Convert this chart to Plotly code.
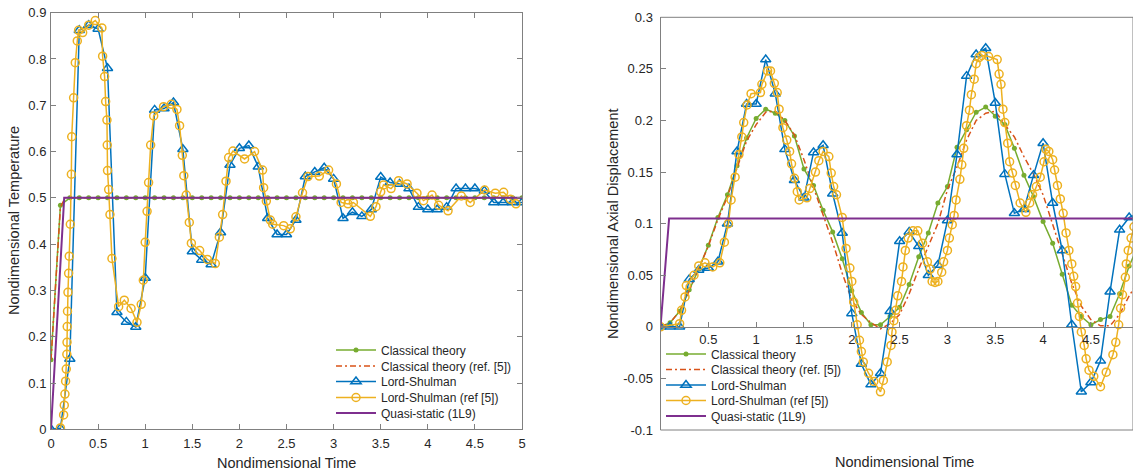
import plotly.graph_objects as go

# ---------------- data: left panel (temperature) ----------------
t_step = [round(0.1 * i, 1) for i in range(51)]

temp_classical = [0.15, 0.484] + [0.5] * 49

temp_classical_ref_t = [0.0, 0.03, 0.06, 0.1, 0.15, 0.2, 5.0]
temp_classical_ref = [0.15, 0.25, 0.36, 0.48, 0.5, 0.5, 0.5]

temp_ls = [0.0, 0.002, 0.152, 0.862, 0.873, 0.865, 0.78, 0.253, 0.232, 0.221,
           0.327, 0.69, 0.693, 0.706, 0.605, 0.384, 0.366, 0.356, 0.425, 0.571,
           0.607, 0.613, 0.567, 0.456, 0.421, 0.421, 0.452, 0.546, 0.556, 0.565,
           0.541, 0.456, 0.469, 0.46, 0.475, 0.545, 0.533, 0.53, 0.52, 0.48,
           0.475, 0.475, 0.48, 0.52, 0.52, 0.52, 0.515, 0.49, 0.49, 0.49, 0.49]

temp_ls_ref_t = [0.1, 0.134, 0.141, 0.148, 0.155, 0.162, 0.168, 0.17, 0.172, 0.175,
                 0.18, 0.187, 0.194, 0.205, 0.216, 0.22, 0.24, 0.258, 0.279, 0.293,
                 0.336, 0.4, 0.47, 0.54, 0.548, 0.569, 0.58, 0.594, 0.597, 0.6,
                 0.612, 0.626, 0.647, 0.718, 0.778, 0.85, 0.913, 0.958, 0.98, 1.0,
                 1.02, 1.036, 1.058, 1.09, 1.195, 1.277, 1.337, 1.365, 1.394, 1.41,
                 1.436, 1.468, 1.49, 1.578, 1.66, 1.744, 1.787, 1.822, 1.858, 1.886,
                 1.932, 2.055, 2.161, 2.246, 2.257, 2.286, 2.328, 2.353, 2.47, 2.54,
                 2.6, 2.67, 2.728, 2.848, 2.947, 3.03, 3.08, 3.153, 3.21, 3.39,
                 3.45, 3.5, 3.53, 3.61, 3.69, 3.78, 3.885, 3.955, 4.045, 4.115,
                 4.215, 4.356, 4.45, 4.603, 4.716, 4.805, 4.876, 4.936]
temp_ls_ref = [0.003, 0.031, 0.052, 0.076, 0.104, 0.13, 0.162, 0.188, 0.222, 0.255,
               0.296, 0.337, 0.374, 0.443, 0.551, 0.632, 0.716, 0.792, 0.839, 0.862,
               0.857, 0.873, 0.883, 0.867, 0.806, 0.762, 0.708, 0.668, 0.614, 0.559,
               0.518, 0.464, 0.369, 0.265, 0.279, 0.261, 0.231, 0.27, 0.322, 0.404,
               0.471, 0.533, 0.614, 0.677, 0.697, 0.702, 0.691, 0.656, 0.592, 0.548,
               0.506, 0.447, 0.402, 0.386, 0.367, 0.358, 0.415, 0.464, 0.536, 0.587,
               0.601, 0.584, 0.6, 0.56, 0.522, 0.493, 0.452, 0.443, 0.44, 0.433,
               0.459, 0.511, 0.546, 0.547, 0.56, 0.53, 0.49, 0.487, 0.49, 0.46,
               0.481, 0.513, 0.528, 0.52, 0.537, 0.53, 0.51, 0.494, 0.506, 0.484,
               0.472, 0.504, 0.49, 0.517, 0.51, 0.512, 0.497, 0.487]

temp_quasi_t = [0.0, 0.14, 5.0]
temp_quasi = [0.0, 0.5, 0.5]

# ---------------- data: right panel (axial displacement) ----------------
disp_classical = [0.0, 0.004, 0.015, 0.036, 0.056, 0.079, 0.106, 0.128, 0.156, 0.183,
                  0.202, 0.211, 0.207, 0.2, 0.185, 0.153, 0.137, 0.113, 0.092, 0.066,
                  0.035, 0.014, 0.002, 0.002, 0.01, 0.019, 0.041, 0.068, 0.091, 0.12,
                  0.136, 0.174, 0.191, 0.208, 0.213, 0.204, 0.196, 0.173, 0.147, 0.126,
                  0.102, 0.081, 0.051, 0.021, 0.01, 0.002, 0.007, 0.01, 0.032, 0.059, 0.08]

disp_classical_ref = [0.0, 0.004, 0.015, 0.035, 0.057, 0.078, 0.104, 0.126, 0.154, 0.18,
                      0.196, 0.208, 0.209, 0.2, 0.186, 0.162, 0.135, 0.108, 0.082, 0.052,
                      0.026, 0.012, 0.004, -0.002, 0.003, 0.012, 0.032, 0.056, 0.078, 0.1,
                      0.133, 0.155, 0.181, 0.2, 0.207, 0.209, 0.196, 0.184, 0.165, 0.148,
                      0.128, 0.1, 0.07, 0.042, 0.02, 0.007, 0.001, 0.001, 0.012, 0.03, 0.045]

disp_ls = [0.0, 0.0, 0.0, 0.046, 0.055, 0.057, 0.063, 0.1, 0.17, 0.216,
           0.216, 0.259, 0.226, 0.172, 0.142, 0.125, 0.169, 0.176, 0.129, 0.091,
           0.013, -0.036, -0.056, -0.045, 0.015, 0.083, 0.092, 0.078, 0.05, 0.06,
           0.103, 0.167, 0.243, 0.264, 0.27, 0.217, 0.148, 0.11, 0.114, 0.147,
           0.178, 0.12, 0.074, 0.002, -0.063, -0.054, -0.033, 0.034, 0.094, 0.106, 0.11]

disp_ls_ref_t = [0.0, 0.2, 0.22, 0.256, 0.27, 0.35, 0.4, 0.465, 0.546, 0.62,
                 0.668, 0.71, 0.738, 0.78, 0.82, 0.85, 0.87, 0.905, 0.947, 1.045,
                 1.06, 1.12, 1.15, 1.19, 1.22, 1.24, 1.28, 1.32, 1.35, 1.37,
                 1.4, 1.43, 1.45, 1.53, 1.56, 1.62, 1.655, 1.7, 1.76, 1.785,
                 1.81, 1.84, 1.9, 1.94, 1.98, 2.0, 2.02, 2.056, 2.08, 2.1,
                 2.12, 2.175, 2.23, 2.3, 2.33, 2.37, 2.41, 2.42, 2.44, 2.46,
                 2.48, 2.52, 2.535, 2.56, 2.59, 2.64, 2.69, 2.74, 2.79, 2.82,
                 2.84, 2.87, 2.9, 2.94, 2.96, 3.0, 3.02, 3.05, 3.07, 3.09,
                 3.13, 3.15, 3.17, 3.2, 3.23, 3.25, 3.28, 3.3, 3.33, 3.36,
                 3.43, 3.52, 3.54, 3.56, 3.58, 3.6, 3.63, 3.65, 3.68, 3.71,
                 3.76, 3.82, 3.86, 3.89, 3.93, 3.97, 4.01, 4.03, 4.06, 4.1,
                 4.12, 4.15, 4.18, 4.21, 4.24, 4.27, 4.3, 4.32, 4.34, 4.36,
                 4.38, 4.4, 4.43, 4.45, 4.48, 4.53, 4.6, 4.66, 4.73, 4.76,
                 4.79, 4.81, 4.83, 4.86, 4.87, 4.89, 4.92, 4.95, 5.0]
disp_ls_ref = [0.0, 0.003, 0.016, 0.029, 0.04, 0.05, 0.059, 0.062, 0.058, 0.062,
               0.082, 0.1, 0.123, 0.145, 0.167, 0.184, 0.198, 0.215, 0.226, 0.227,
               0.235, 0.248, 0.248, 0.236, 0.227, 0.211, 0.193, 0.181, 0.17, 0.158,
               0.144, 0.131, 0.123, 0.125, 0.134, 0.15, 0.161, 0.17, 0.165, 0.149,
               0.136, 0.128, 0.106, 0.076, 0.057, 0.044, 0.024, 0.002, -0.013, -0.024,
               -0.034, -0.045, -0.053, -0.063, -0.052, -0.034, -0.018, -0.005, 0.006, 0.016,
               0.03, 0.044, 0.058, 0.074, 0.086, 0.093, 0.093, 0.081, 0.063, 0.056,
               0.044, 0.043, 0.044, 0.053, 0.063, 0.074, 0.086, 0.099, 0.108, 0.123,
               0.143, 0.157, 0.173, 0.195, 0.21, 0.225, 0.24, 0.255, 0.261, 0.263,
               0.262, 0.259, 0.245, 0.235, 0.211, 0.198, 0.178, 0.16, 0.149, 0.137,
               0.12, 0.111, 0.12, 0.128, 0.136, 0.145, 0.16, 0.172, 0.17, 0.162,
               0.152, 0.137, 0.124, 0.11, 0.091, 0.074, 0.061, 0.049, 0.039, 0.023,
               0.01, -0.005, -0.018, -0.031, -0.042, -0.048, -0.058, -0.044, -0.027, -0.015,
               0.002, 0.018, 0.031, 0.048, 0.061, 0.074, 0.086, 0.097, 0.105]

disp_quasi_t = [0.0, 0.09, 5.0]
disp_quasi = [0.0, 0.105, 0.105]

# ---------------- tick labels ----------------
left_x_ticks = [0, 0.5, 1, 1.5, 2, 2.5, 3, 3.5, 4, 4.5, 5]
left_x_text = ["0", "0.5", "1", "1.5", "2", "2.5", "3", "3.5", "4", "4.5", "5"]
left_y_ticks = [0, 0.1, 0.2, 0.3, 0.4, 0.5, 0.6, 0.7, 0.8, 0.9]
left_y_text = ["0", "0.1", "0.2", "0.3", "0.4", "0.5", "0.6", "0.7", "0.8", "0.9"]
right_x_ticks = [0.5, 1, 1.5, 2, 2.5, 3, 3.5, 4, 4.5]
right_x_text = ["0.5", "1", "1.5", "2", "2.5", "3", "3.5", "4", "4.5"]
right_y_ticks = [-0.1, -0.05, 0, 0.05, 0.1, 0.15, 0.2, 0.25, 0.3]
right_y_text = ["-0.1", "-0.05", "0", "0.05", "0.1", "0.15", "0.2", "0.25", "0.3"]

names = ["Classical theory", "Classical theory (ref. [5])", "Lord-Shulman",
         "Lord-Shulman (ref [5])", "Quasi-static (1L9)"]

# ---------------- styles ----------------
GREEN = "#77AC30"
RED = "#D95319"
BLUE = "#0072BD"
YELLOW = "#EDB120"
PURPLE = "#7E2F8E"
FONT = "Liberation Sans, Arial, sans-serif"
TXT = "#262626"
AX = "#808080"

W, H = 1133, 472
L_dom_x = [51 / W, 522 / W]
L_dom_y = [(H - 429.3) / H, (H - 12.7) / H]
R_dom_x = [660.5 / W, 1.0]
R_dom_y = [(H - 430.0) / H, (H - 17.3) / H]
R_yrange = [-0.1, 0.3]
R_xrange = [0, 4.94]
zero_pos = R_dom_y[0] + (0 - R_yrange[0]) / (R_yrange[1] - R_yrange[0]) * (R_dom_y[1] - R_dom_y[0])

# one legend per entry so the rows can sit as close as in the original
L_leg_rows = [350, 366, 381.5, 397.5, 413]
R_leg_rows = [354, 369.5, 385, 400.5, 416]
L_leg_x = 331
R_leg_x = 661

fig = go.Figure()


def add_set(xa, ya, leg_ids, xs_cl, ys_cl, xs_clr, ys_clr, xs_ls, ys_ls, xs_lsr, ys_lsr, xs_q, ys_q):
    fig.add_trace(go.Scatter(x=xs_cl, y=ys_cl, mode="lines+markers", name=names[0],
                             line=dict(color=GREEN, width=1.5),
                             marker=dict(symbol="circle", size=5, color=GREEN),
                             xaxis=xa, yaxis=ya, legend=leg_ids[0], showlegend=True))
    fig.add_trace(go.Scatter(x=xs_clr, y=ys_clr, mode="lines", name=names[1],
                             line=dict(color=RED, width=1.5, dash="6px,3px,2px,3px"),
                             xaxis=xa, yaxis=ya, legend=leg_ids[1], showlegend=True))
    fig.add_trace(go.Scatter(x=xs_ls, y=ys_ls, mode="lines+markers", name=names[2],
                             line=dict(color=BLUE, width=1.5),
                             marker=dict(symbol="triangle-up-open", size=9, color=BLUE,
                                         line=dict(width=1.5, color=BLUE)),
                             xaxis=xa, yaxis=ya, legend=leg_ids[2], showlegend=True))
    fig.add_trace(go.Scatter(x=xs_lsr, y=ys_lsr, mode="lines+markers", name=names[3],
                             line=dict(color=YELLOW, width=1.5),
                             marker=dict(symbol="circle-open", size=8, color=YELLOW,
                                         line=dict(width=1.5, color=YELLOW)),
                             xaxis=xa, yaxis=ya, legend=leg_ids[3], showlegend=True))
    fig.add_trace(go.Scatter(x=xs_q, y=ys_q, mode="lines", name=names[4],
                             line=dict(color=PURPLE, width=2),
                             xaxis=xa, yaxis=ya, legend=leg_ids[4], showlegend=True))


left_ids = ["legend", "legend2", "legend3", "legend4", "legend5"]
right_ids = ["legend6", "legend7", "legend8", "legend9", "legend10"]

add_set("x", "y", left_ids, t_step, temp_classical, temp_classical_ref_t, temp_classical_ref,
        t_step, temp_ls, temp_ls_ref_t, temp_ls_ref, temp_quasi_t, temp_quasi)
add_set("x2", "y2", right_ids, t_step, disp_classical, t_step, disp_classical_ref,
        t_step, disp_ls, disp_ls_ref_t, disp_ls_ref, disp_quasi_t, disp_quasi)

tickfont = dict(family=FONT, size=13, color=TXT)
legfont = dict(family=FONT, size=12, color=TXT)


def leg(xpx, ypx):
    return dict(x=xpx / W, y=1 - ypx / H, xanchor="left", yanchor="middle",
                bgcolor="rgba(0,0,0,0)", borderwidth=0, font=legfont,
                itemwidth=40, tracegroupgap=0)


legend_layout = {}
for lid, ry in zip(left_ids, L_leg_rows):
    legend_layout[lid] = leg(L_leg_x, ry)
for lid, ry in zip(right_ids, R_leg_rows):
    legend_layout[lid] = leg(R_leg_x, ry)

fig.update_layout(
    width=W, height=H,
    showlegend=True,
    margin=dict(l=0, r=0, t=0, b=0, autoexpand=False),
    paper_bgcolor="white", plot_bgcolor="white",
    font=dict(family=FONT, color=TXT),
    xaxis=dict(domain=L_dom_x, range=[0, 5], tickvals=left_x_ticks, ticktext=left_x_text,
               showline=True, linecolor=AX, linewidth=1, mirror="ticks",
               ticks="inside", ticklen=5, tickcolor=AX, showgrid=False, zeroline=False,
               tickfont=tickfont, anchor="y", ticklabelstandoff=2, automargin=False),
    yaxis=dict(domain=L_dom_y, range=[0, 0.9], tickvals=left_y_ticks, ticktext=left_y_text,
               showline=True, linecolor=AX, linewidth=1, mirror="ticks",
               ticks="inside", ticklen=5, tickcolor=AX, showgrid=False, zeroline=False,
               tickfont=tickfont, anchor="x", ticklabelstandoff=1, automargin=False),
    xaxis2=dict(domain=R_dom_x, range=R_xrange, tickvals=right_x_ticks, ticktext=right_x_text,
                showline=True, linecolor=AX, linewidth=1,
                ticks="inside", ticklen=5, tickcolor=AX, showgrid=False, zeroline=False,
                tickfont=tickfont, anchor="free", position=zero_pos, ticklabelstandoff=1,
                automargin=False),
    yaxis2=dict(domain=R_dom_y, range=R_yrange, tickvals=right_y_ticks, ticktext=right_y_text,
                showline=True, linecolor=AX, linewidth=1,
                ticks="inside", ticklen=5, tickcolor=AX, showgrid=False, zeroline=False,
                tickfont=tickfont, anchor="x2", ticklabelstandoff=4, automargin=False),
    shapes=[dict(type="rect", xref="x2 domain", yref="y2 domain", x0=0, x1=1, y0=0, y1=1,
                 line=dict(color=AX, width=1), fillcolor="rgba(0,0,0,0)", layer="above")],
    annotations=[
        dict(text="Nondimensional Temperature", xref="paper", yref="paper",
             x=14 / W, y=1 - 221 / H, textangle=-90, showarrow=False,
             font=dict(family=FONT, size=14.5, color=TXT), xanchor="center", yanchor="middle"),
        dict(text="Nondimensional Time", xref="paper", yref="paper",
             x=286 / W, y=1 - 463 / H, showarrow=False,
             font=dict(family=FONT, size=14.5, color=TXT), xanchor="center", yanchor="middle"),
        dict(text="Nondimensional Axial Displacement", xref="paper", yref="paper",
             x=612.5 / W, y=1 - 223.5 / H, textangle=-90, showarrow=False,
             font=dict(family=FONT, size=14.5, color=TXT), xanchor="center", yanchor="middle"),
        dict(text="Nondimensional Time", xref="paper", yref="paper",
             x=904 / W, y=1 - 462 / H, showarrow=False,
             font=dict(family=FONT, size=14.5, color=TXT), xanchor="center", yanchor="middle"),
    ],
    **legend_layout,
)

fig.write_html(
    "out.html",
    config={"displayModeBar": False},
    post_script="document.body.style.margin='0';document.body.style.overflow='hidden';",
)
